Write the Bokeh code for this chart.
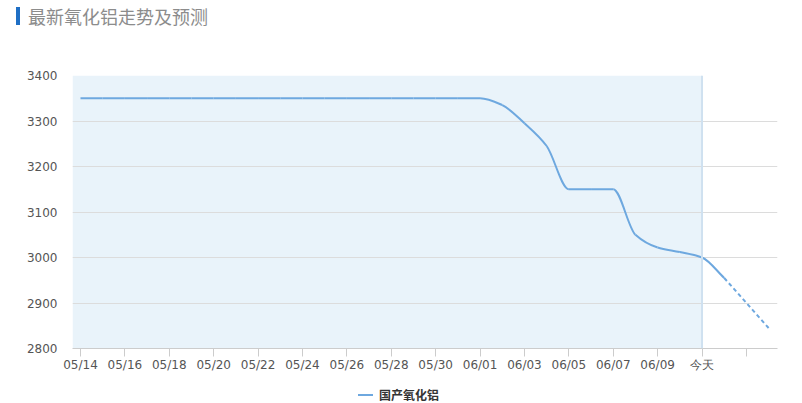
from bokeh.plotting import figure
from bokeh.models import (Div, Range1d, FixedTicker, BoxAnnotation, Span,
                          ColumnDataSource)
from bokeh.layouts import column
from bokeh.embed import file_html
from bokeh.resources import INLINE

# ---------------- data ----------------
dates = ["05/14", "05/15", "05/16", "05/17", "05/18", "05/19", "05/20", "05/21",
         "05/22", "05/23", "05/24", "05/25", "05/26", "05/27", "05/28", "05/29",
         "05/30", "05/31", "06/01", "06/02", "06/03", "06/04", "06/05", "06/06",
         "06/07", "06/08", "06/09", "06/10", "06/11", "06/12", "06/13", "06/14"]
prices = [3350, 3350, 3350, 3350, 3350, 3350, 3350, 3350, 3350, 3350,
          3350, 3350, 3350, 3350, 3350, 3350, 3350, 3350, 3350, 3335,
          3295, 3245, 3150, 3150, 3150, 3050, 3022, 3012, 3000, 2955]
forecast_dates = ["06/12", "06/13", "06/14"]
forecast_prices = [2955, 2900, 2845]
tick_dates = ["05/14", "05/16", "05/18", "05/20", "05/22", "05/24", "05/26", "05/28",
              "05/30", "06/01", "06/03", "06/05", "06/07", "06/09", "06/11", "06/13"]
tick_labels = ["05/14", "05/16", "05/18", "05/20", "05/22", "05/24", "05/26", "05/28",
               "05/30", "06/01", "06/03", "06/05", "06/07", "06/09", "今天", ""]
today = "06/11"
series_name = "国产氧化铝"
title_text = "最新氧化铝走势及预测"
y_ticks = [2800, 2900, 3000, 3100, 3200, 3300, 3400]

# ---------------- derived ----------------
xs = [dates.index(d) for d in dates[:len(prices)]]
fx = [dates.index(d) for d in forecast_dates]
ticks = [dates.index(d) for d in tick_dates]
today_x = dates.index(today)

# monotone cubic (Fritsch-Butland) bezier segments for the smoothed line
n = len(prices)
delta = [(prices[k + 1] - prices[k]) / (xs[k + 1] - xs[k]) for k in range(n - 1)]
m = [0.0] * n
m[0] = delta[0]
m[-1] = delta[-1]
for k in range(1, n - 1):
    a, b = delta[k - 1], delta[k]
    m[k] = 0.0 if a * b <= 0 else 2.0 / (1.0 / a + 1.0 / b)
bz = dict(x0=[], y0=[], x1=[], y1=[], cx0=[], cy0=[], cx1=[], cy1=[])
for k in range(n - 1):
    h = xs[k + 1] - xs[k]
    bz["x0"].append(xs[k]); bz["y0"].append(prices[k])
    bz["x1"].append(xs[k + 1]); bz["y1"].append(prices[k + 1])
    bz["cx0"].append(xs[k] + h / 3); bz["cy0"].append(prices[k] + m[k] * h / 3)
    bz["cx1"].append(xs[k + 1] - h / 3); bz["cy1"].append(prices[k + 1] - m[k + 1] * h / 3)

LINE = "#6ea8df"
W = 802

header = Div(
    text=('<div style="padding-top:7px;">'
          '<div style="margin-left:16px;border-left:4px solid #1f6fc5;padding-left:8px;'
          'height:18px;line-height:18px;font-size:18px;color:#8c8c8c;'
          'font-family:\'Noto Sans CJK SC\',sans-serif;white-space:nowrap;">'
          + title_text + '</div></div>'),
    width=W, height=30, margin=0)

p = figure(width=W, height=355, output_backend="svg", toolbar_location=None,
           x_range=Range1d(-0.36, 31.4), y_range=Range1d(2800, 3400),
           min_border_left=72, min_border_right=25, min_border_top=45,
           min_border_bottom=37, margin=0)
p.outline_line_color = None
p.background_fill_color = "white"

shade = BoxAnnotation(right=today_x, fill_color="#e9f3fa", fill_alpha=1.0,
                      line_color=None, level="image")
p.add_layout(shade)
p.add_layout(Span(location=today_x, dimension="height", line_color="#cfe1f0",
                  line_width=2))

r = p.bezier(x0="x0", y0="y0", x1="x1", y1="y1", cx0="cx0", cy0="cy0",
             cx1="cx1", cy1="cy1", source=ColumnDataSource(bz),
             line_color=LINE, line_width=2)
p.line(fx, forecast_prices, line_color=LINE, line_width=2, line_dash="4 3")

p.xgrid.visible = False
p.ygrid.grid_line_color = "#dcdcdc"
p.ygrid.ticker = FixedTicker(ticks=y_ticks)

p.yaxis.ticker = FixedTicker(ticks=y_ticks)
p.yaxis.axis_line_color = None
p.yaxis.major_tick_line_color = None
p.yaxis.major_tick_out = 0
p.yaxis.major_tick_in = 0
p.yaxis.minor_tick_line_color = None
p.yaxis.major_label_standoff = 15
p.yaxis.major_label_text_font = "DejaVu Sans"
p.yaxis.major_label_text_font_size = "12px"
p.yaxis.major_label_text_color = "#555555"

p.xaxis.ticker = FixedTicker(ticks=ticks)
p.xaxis.major_label_overrides = {t: lab for t, lab in zip(ticks, tick_labels)}
p.xaxis.axis_line_color = "#cccccc"
p.xaxis.major_tick_line_color = "#cccccc"
p.xaxis.major_tick_out = 8
p.xaxis.major_tick_in = 0
p.xaxis.minor_tick_line_color = None
p.xaxis.major_label_standoff = 1
p.xaxis.major_label_text_font = "DejaVu Sans"
p.xaxis.major_label_text_font_size = "12px"
p.xaxis.major_label_text_color = "#555555"

legend_div = Div(
    text=('<div style="position:relative;width:%dpx;height:18px;">'
          '<div style="position:absolute;left:358px;top:9px;width:15px;height:2px;'
          'background:%s;"></div>'
          '<div style="position:absolute;left:379px;top:2px;font-size:12px;line-height:15px;'
          'font-weight:bold;color:#333333;font-family:\'Noto Sans CJK SC\',sans-serif;'
          'white-space:nowrap;">%s</div></div>') % (W, LINE, series_name),
    width=W, height=18, margin=0)

layout = column(header, p, legend_div, spacing=0)
open("out.html", "w").write(file_html(layout, INLINE))
